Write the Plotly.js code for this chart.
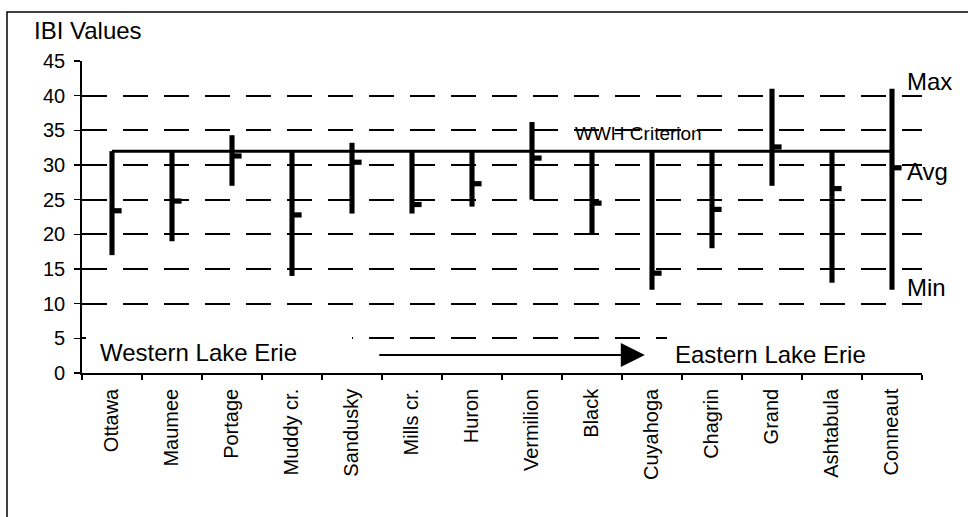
<!DOCTYPE html>
<html>
<head>
<meta charset="utf-8">
<script src="https://cdn.plot.ly/plotly-3.0.1.min.js"></script>
<style>html,body{margin:0;padding:0;background:#fff;}#chart{width:968px;height:517px;}</style>
</head>
<body>
<div id="chart"></div>
<script>
// ---- data ----
const rivers = ['Ottawa','Maumee','Portage','Muddy cr.','Sandusky','Mills cr.','Huron','Vermilion','Black','Cuyahoga','Chagrin','Grand','Ashtabula','Conneaut'];
const highs  = [32, 32, 34.3, 32, 33.2, 32, 32, 36.2, 32, 32, 32, 41, 32, 41];
const lows   = [17, 19, 27, 14, 23, 23, 24, 25, 20, 12, 18, 27, 13, 12];
const avgs   = [23.4, 24.8, 31.3, 22.8, 30.4, 24.3, 27.3, 31.0, 24.5, 14.4, 23.6, 32.6, 26.6, 29.6];
const wwhCriterion = 32;
const yTicks = [0, 5, 10, 15, 20, 25, 30, 35, 40, 45];

const avgH = 0.75; // thickness of the avg tick, in y units (style)
const spans = highs.map((h, i) => h - lows[i]);
const avgBase = avgs.map(a => a - avgH / 2);

const traces = [
  { type: 'bar', x: rivers, base: lows, y: spans, width: 0.085, offset: -0.0425,
    marker: { color: '#000', line: { width: 0 } }, hoverinfo: 'skip', showlegend: false },
  { type: 'bar', x: rivers, base: avgBase, y: avgs.map(() => avgH), width: 0.16, offset: 0,
    marker: { color: '#000', line: { width: 0 } }, hoverinfo: 'skip', showlegend: false },
  { type: 'scatter', mode: 'lines', x: [rivers[0], rivers[rivers.length - 1]], y: [wwhCriterion, wwhCriterion],
    line: { color: '#000', width: 3 }, hoverinfo: 'skip', showlegend: false }
];

const L = 82, R = 922, T = 61, B = 373;
const px = v => (v - L) / (R - L);
const py = v => (B - v) / (B - T);

const font = { family: 'Liberation Sans, Arial, sans-serif', color: '#000' };

const layout = {
  width: 968, height: 517,
  margin: { l: 82, r: 46, t: 61, b: 144, pad: 0 },
  paper_bgcolor: '#fff', plot_bgcolor: '#fff',
  barmode: 'overlay', showlegend: false,
  font: Object.assign({ size: 20 }, font),
  xaxis: {
    type: 'category', categoryorder: 'array', categoryarray: rivers,
    range: [-0.5, rivers.length - 0.5], fixedrange: true,
    showline: true, linecolor: '#000', linewidth: 1.8,
    ticks: 'outside', tickson: 'boundaries', ticklen: 5, tickwidth: 1.5, tickcolor: '#000',
    tickangle: -90, tickfont: Object.assign({ size: 20 }, font), ticklabelstandoff: 6,
    showgrid: false, zeroline: false
  },
  xaxis2: {
    overlaying: 'x', anchor: 'y', type: 'linear', range: [-0.5, rivers.length - 0.5],
    tick0: -0.5, dtick: 1, ticks: 'inside', ticklen: 4, tickwidth: 1.5, tickcolor: '#000',
    showticklabels: false, showgrid: false, zeroline: false, showline: false, fixedrange: true
  },
  yaxis: {
    range: [0, 45], tickmode: 'array', tickvals: yTicks, fixedrange: true,
    showline: true, linecolor: '#000', linewidth: 1.8,
    ticks: 'outside', ticklen: 6, tickwidth: 1.5, tickcolor: '#000',
    tickfont: Object.assign({ size: 20 }, font), ticklabelstandoff: 5,
    showgrid: true, gridcolor: '#000', gridwidth: 1.8, griddash: '25px,16px', zeroline: false
  },
  yaxis2: {
    overlaying: 'y', anchor: 'x', range: [0, 45], tickmode: 'array', tickvals: yTicks,
    ticks: 'inside', ticklen: 5, tickwidth: 1.5, tickcolor: '#000',
    showticklabels: false, showgrid: false, zeroline: false, showline: false, fixedrange: true
  },
  shapes: [
    { type: 'rect', xref: 'paper', yref: 'paper', x0: px(7), x1: px(1000), y0: py(560), y1: py(12),
      line: { color: '#000', width: 1.5 }, fillcolor: 'rgba(0,0,0,0)', layer: 'below' },
    { type: 'rect', xref: 'paper', yref: 'paper', x0: px(86), x1: px(352), y0: py(366), y1: py(335),
      line: { width: 0 }, fillcolor: '#fff', layer: 'above' },
    { type: 'rect', xref: 'paper', yref: 'paper', x0: px(667), x1: px(930), y0: py(366), y1: py(335),
      line: { width: 0 }, fillcolor: '#fff', layer: 'above' }
  ],
  annotations: [
    { text: 'IBI Values', xref: 'paper', yref: 'paper', x: px(32), y: py(31), xanchor: 'left', yanchor: 'middle',
      showarrow: false, font: Object.assign({ size: 24 }, font) },
    { text: 'Western Lake Erie', xref: 'paper', yref: 'y', x: px(98), y: 3.0, xanchor: 'left', yanchor: 'middle',
      showarrow: false, font: Object.assign({ size: 24 }, font) },
    { text: 'Eastern Lake Erie', xref: 'paper', yref: 'y', x: px(673), y: 2.7, xanchor: 'left', yanchor: 'middle',
      showarrow: false, font: Object.assign({ size: 24 }, font) },
    { text: 'WWH Criterion', xref: 'paper', yref: 'y', x: px(638), y: 34.6, xanchor: 'center', yanchor: 'middle',
      showarrow: false, font: Object.assign({ size: 19 }, font) },
    { text: 'Max', xref: 'paper', yref: 'y', x: px(905), y: 42, xanchor: 'left', yanchor: 'middle',
      showarrow: false, font: Object.assign({ size: 24 }, font) },
    { text: 'Avg', xref: 'paper', yref: 'y', x: px(905), y: 29, xanchor: 'left', yanchor: 'middle',
      showarrow: false, font: Object.assign({ size: 24 }, font) },
    { text: 'Min', xref: 'paper', yref: 'y', x: px(905), y: 12.4, xanchor: 'left', yanchor: 'middle',
      showarrow: false, font: Object.assign({ size: 24 }, font) },
    { text: '', xref: 'x', yref: 'y', x: 8.88, y: 2.6, axref: 'x', ayref: 'y', ax: 4.43, ay: 2.6,
      showarrow: true, arrowhead: 2, arrowsize: 2.4, arrowwidth: 2, arrowcolor: '#000', standoff: 0 }
  ]
};

Plotly.newPlot('chart', traces, layout, { displayModeBar: false, staticPlot: true });
</script>
</body>
</html>
